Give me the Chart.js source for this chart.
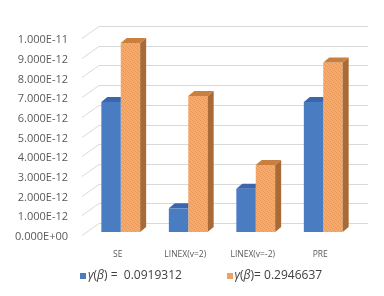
<!DOCTYPE html>
<html>
<head>
<meta charset="utf-8">
<script src="https://cdn.jsdelivr.net/npm/chart.js@4/dist/chart.umd.min.js"></script>
<style>
  body { margin: 0; background: #fff; }
  #wrap { position: relative; width: 384px; height: 296px; }
  #legend { position: absolute; left: 0; top: 267px; width: 384px; height: 16px;
            font: 12px "Open Sans", sans-serif; color: #404040; }
  .item { position: absolute; top: 0; white-space: pre; line-height: 16px; }
  .box { position: absolute; top: 6px; width: 6px; height: 6px; }
</style>
</head>
<body>
<div id="wrap">
  <canvas id="grafico" width="384" height="296"></canvas>
  <div id="legend"></div>
</div>
<script>
// valores em unidades de 1E-12
const categorias = ['SE', 'LINEX(v=2)', 'LINEX(v=-2)', 'PRE'];
const serieA = [6.6, 1.2, 2.2, 6.6];
const serieB = [9.6, 6.9, 3.4, 8.6];
const nomesSeries = ['γ(β) =  0.0919312', 'γ(β)= 0.2946637'];
const rotulosY = ['0.000E+00', '1.000E-12', '2.000E-12', '3.000E-12', '4.000E-12', '5.000E-12',
                  '6.000E-12', '7.000E-12', '8.000E-12', '9.000E-12', '1.000E-11'];

// textura pontilhada do laranja
function padraoLaranja() {
    const c = document.createElement('canvas');
    c.width = 4; c.height = 4;
    const g = c.getContext('2d');
    g.fillStyle = '#f6ab6c';
    g.fillRect(0, 0, 4, 4);
    g.fillStyle = '#e8955a';
    [[0, 0], [2, 1], [1, 2], [3, 3]].forEach(p => g.fillRect(p[0], p[1], 1, 1));
    return g.createPattern(c, 'repeat');
}

const faces = [
    { top: '#3a66ad', side: null },
    { top: '#c9803f', side: '#a86a36' }
];
const DX = 6, DY = 5;

const profundidade = {
    id: 'profundidade',
    beforeDatasetsDraw(chart) {
        const { ctx, chartArea: a, scales: { y } } = chart;
        ctx.save();
        ctx.strokeStyle = '#d9d9d9';
        ctx.lineWidth = 1;
        y.ticks.forEach(t => {
            const py = Math.round(y.getPixelForValue(t.value)) + 0.5;
            ctx.beginPath();
            ctx.moveTo(a.left - 5, py + 3);
            ctx.lineTo(a.left + 12, py - 9);
            ctx.lineTo(a.right + 11, py - 9);
            ctx.stroke();
        });
        ctx.restore();
    },
    afterDatasetsDraw(chart) {
        const ctx = chart.ctx;
        ctx.save();
        chart.data.datasets.forEach((ds, i) => {
            const f = faces[i];
            chart.getDatasetMeta(i).data.forEach(bar => {
                const { x, y, base, width } = bar.getProps(['x', 'y', 'base', 'width'], true);
                const l = x - width / 2, r = x + width / 2;
                if (f.side) {
                    ctx.fillStyle = f.side;
                    ctx.beginPath();
                    ctx.moveTo(r, y); ctx.lineTo(r + DX, y - DY);
                    ctx.lineTo(r + DX, base - DY); ctx.lineTo(r, base);
                    ctx.closePath(); ctx.fill();
                }
                // a face de cima da barra azul fica escondida atrás da laranja
                const rr = f.side ? r + DX : r;
                ctx.fillStyle = f.top;
                ctx.beginPath();
                ctx.moveTo(l, y); ctx.lineTo(l + DX, y - DY);
                ctx.lineTo(rr, y - DY); ctx.lineTo(r, y);
                ctx.closePath(); ctx.fill();
            });
        });
        ctx.restore();
    }
};

const cores = ['#4a7cc2', padraoLaranja()];

const ctx = document.getElementById('grafico').getContext('2d');
new Chart(ctx, {
    type: 'bar',
    data: {
        labels: categorias,
        datasets: [
            { label: nomesSeries[0], data: serieA, backgroundColor: cores[0] },
            { label: nomesSeries[1], data: serieB, backgroundColor: cores[1] }
        ]
    },
    options: {
        responsive: false,
        animation: false,
        layout: { padding: { left: 6, right: 27, top: 35, bottom: 34 } },
        datasets: { bar: { categoryPercentage: 0.575, barPercentage: 1 } },
        plugins: {
            legend: { display: false },
            tooltip: { enabled: false }
        },
        scales: {
            x: {
                grid: { display: false, drawTicks: false },
                border: { display: false },
                ticks: { color: '#595959', font: { family: 'Open Sans', size: 8.5 }, padding: 17, labelOffset: -3, maxRotation: 0 },
                afterFit: s => { s.height = 30; }
            },
            y: {
                min: 0,
                max: 10,
                grid: { display: false, drawTicks: false },
                border: { display: false },
                ticks: {
                    stepSize: 1,
                    padding: 19,
                    labelOffset: 5,
                    color: '#595959',
                    font: { family: 'Open Sans', size: 11 },
                    callback: (v, i) => rotulosY[i]
                },
                afterFit: s => { s.width = 81; }
            }
        }
    },
    plugins: [profundidade]
});

// legenda em HTML para o gamma/beta em itálico
const legend = document.getElementById('legend');
const posLegenda = [80, 226.5];
nomesSeries.forEach((nome, i) => {
    const box = document.createElement('div');
    box.className = 'box';
    box.style.left = posLegenda[i] + 'px';
    box.style.background = i === 0 ? '#4a7cc2' : '#f0a060';
    if (i === 1) {
        box.style.backgroundImage = 'radial-gradient(#d9823f 30%, transparent 40%)';
        box.style.backgroundSize = '2px 2px';
    }
    legend.appendChild(box);
    const item = document.createElement('span');
    item.className = 'item';
    item.style.left = (posLegenda[i] + 8) + 'px';
    item.innerHTML = nome.replace(/γ/g, '<i>γ</i>').replace(/β/g, '<i>β</i>');
    legend.appendChild(item);
});
</script>
</body>
</html>
